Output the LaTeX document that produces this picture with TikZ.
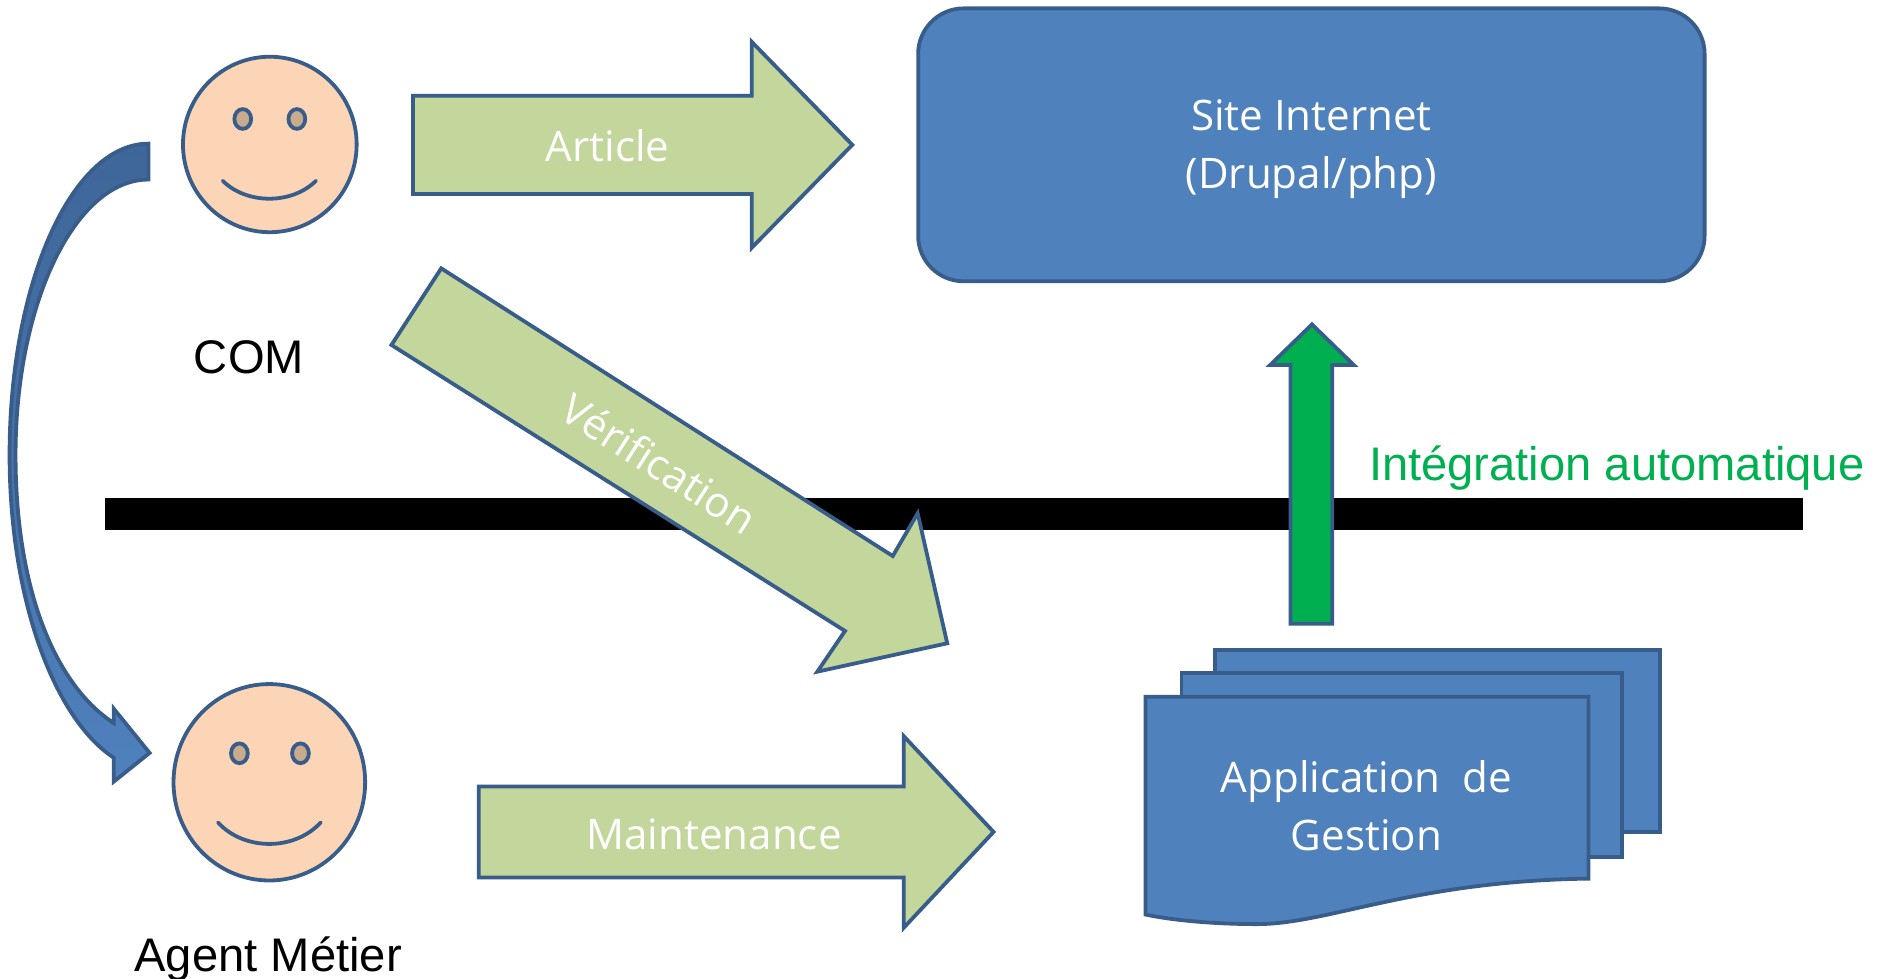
\documentclass[tikz,border=0pt]{standalone}
\usepackage{fontspec}
\setmainfont{Open Sans}
\newfontfamily\arialfont{Liberation Sans}
\usetikzlibrary{shapes.geometric}
\definecolor{ppblue}{HTML}{4F81BD}
\definecolor{ppdark}{HTML}{3F6699}
\definecolor{ppline}{HTML}{385D8A}
\definecolor{pplime}{HTML}{C3D69B}
\definecolor{okgreen}{HTML}{00B050}
\definecolor{skin}{HTML}{FBD5B5}
\definecolor{eyetan}{HTML}{C8AA8C}
\tikzset{
  outline/.style={draw=ppline, line width=0.9pt},
  blockarrow/.style={outline, fill=pplime},
  bluebox/.style={outline, fill=ppblue},
  face/.style={outline, fill=skin, ellipse, inner sep=0pt},
  eye/.style={outline, fill=eyetan, ellipse, inner sep=0pt,
    minimum width=0.14cm, minimum height=0.165cm},
  smile/.style={outline, line cap=round},
  whitelabel/.style={text=white, inner sep=0pt, align=center,
    font=\fontsize{10}{13.7}\selectfont},
  arial/.style={inner sep=0pt, font=\arialfont\fontsize{11.2}{13.5}\selectfont},
}
\begin{document}
\begin{tikzpicture}[x=0.01cm, y=-0.01cm]
\useasboundingbox (0,0) rectangle (1568,817.8);
% separation line
\fill[black] (88,416) rectangle (1506,443);
% people
\node[face, minimum width=1.45cm, minimum height=1.465cm] (com) at (225.4,120.7) {};
\node[eye] (comeyel) at (202.8,99.4) {};
\node[eye] (comeyer) at (248,99.4) {};
\draw[smile] (186,151) .. controls (206,171) and (244,171) .. (264,151);
\node[arial, anchor=base] (comlabel) at (208,312) {COM};
\node[face, minimum width=1.6cm, minimum height=1.64cm] (agent) at (225,653.5) {};
\node[eye] (agenteyel) at (200,629.3) {};
\node[eye] (agenteyer) at (251,629.3) {};
\draw[smile] (182,687) .. controls (204,711) and (246,711) .. (268,687);
\node[arial, anchor=base] (agentlabel) at (224,811.7) {Agent Métier};
% COM to agent
\draw[outline, top color=ppdark, bottom color=ppblue]
  (124,120) .. controls (60,120) and (8,236) .. (8,380)
  .. controls (8,500) and (45,600) .. (95,633)
  -- (95,653) -- (125,629) -- (95,592) -- (95,604)
  .. controls (50,575) and (13,500) .. (13,380)
  .. controls (13,253) and (63,150) .. (124,150) -- cycle;
% site
\draw[bluebox, rounded corners=0.38cm] (767,7) rectangle (1424,235);
\node[whitelabel] (site) at (1095.5,124.5) {Site Internet\\(Drupal/php)};
% application
\draw[bluebox] (1015,543) rectangle (1387,695);
\draw[bluebox] (987,562) rectangle (1355,716);
\draw[bluebox] (957,582) -- (1327,582) -- (1327,734)
  .. controls (1180,736) and (1110,772) .. (1050,772)
  .. controls (1010,772) and (975,768) .. (957,764) -- cycle;
\node[whitelabel] (appli) at (1141.5,673) {Application\ \ de\\Gestion};
% arrows
\draw[blockarrow] (345,80) -- (628,80) -- (628,35) -- (712,121) -- (628,207) -- (628,162) -- (345,162) -- cycle;
\node[whitelabel, anchor=base] (article) at (507.6,135) {Article};
\draw[blockarrow] (368.6,224.2) -- (745.8,464.5) -- (766.6,428.8) -- (791.3,537.4) -- (682.8,561.1) -- (705.9,527.1) -- (327,288.2) -- cycle;
\node[whitelabel, rotate=-32.5] (verif) at (550.8,387) {Vérification};
\draw[blockarrow] (400,657) -- (755,657) -- (755,615) -- (830,695) -- (755,775) -- (755,733) -- (400,733) -- cycle;
\node[whitelabel, anchor=base] (maint) at (596.5,709.5) {Maintenance};
\draw[outline, fill=okgreen] (1078,521) -- (1078,305) -- (1061,305) -- (1096,271) -- (1131,305) -- (1113,305) -- (1113,521) -- cycle;
\node[arial, anchor=base west, text=okgreen] (integ) at (1143,401) {Intégration automatique};
\end{tikzpicture}
\end{document}
